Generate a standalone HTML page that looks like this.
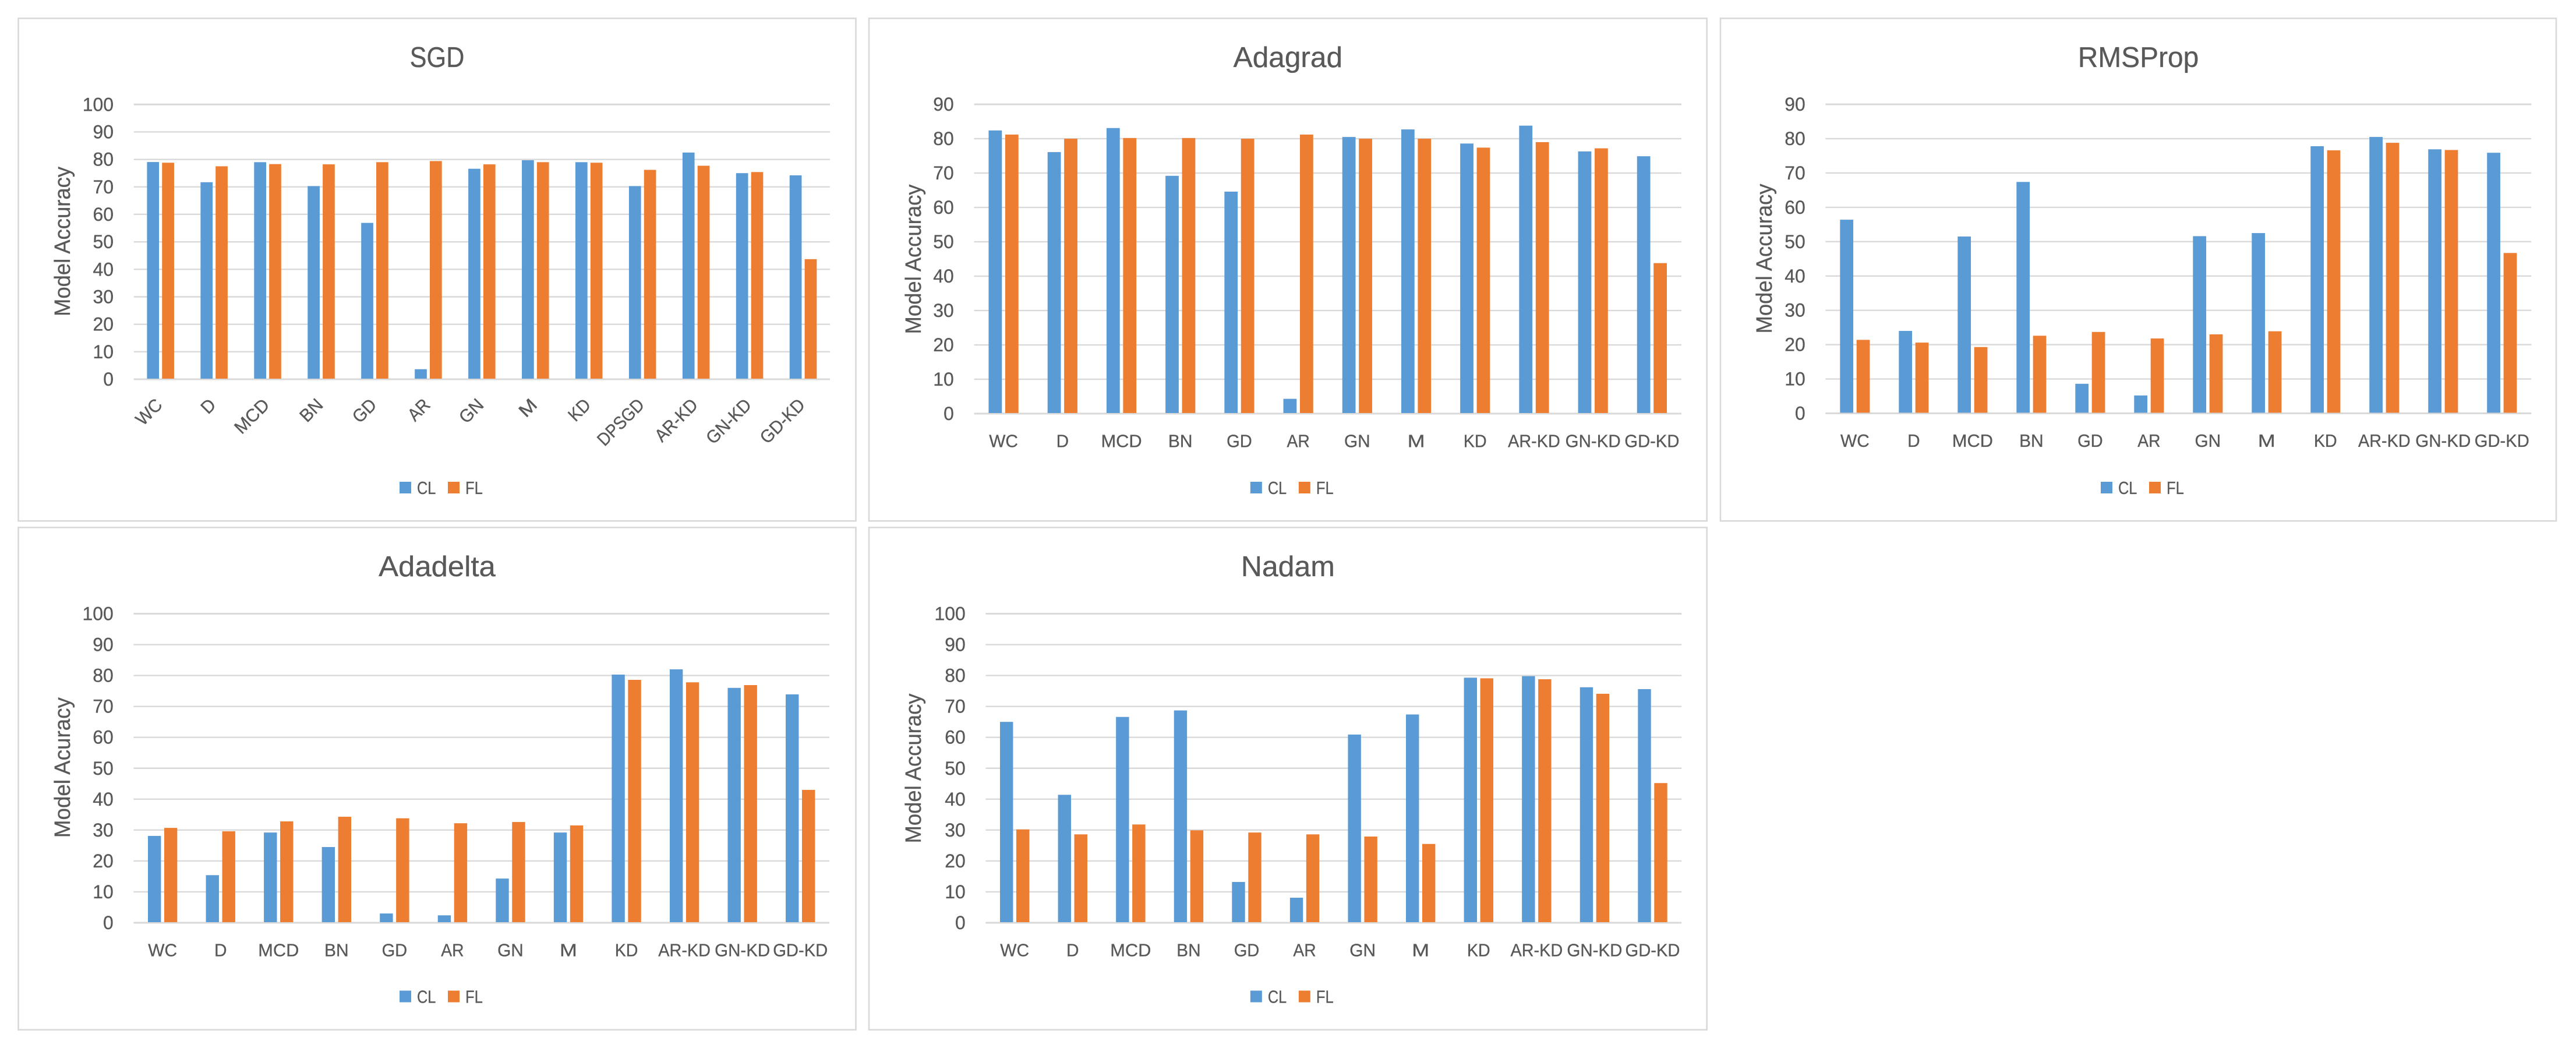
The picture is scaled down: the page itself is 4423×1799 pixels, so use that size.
<!DOCTYPE html>
<html lang="en">
<head>
<meta charset="utf-8">
<title>Model accuracy by optimizer</title>
<style>
html,body{margin:0;padding:0;background:#fff;}
svg{display:block;}
text{font-family:"Liberation Sans",Arial,sans-serif;fill:#595959;stroke:#595959;stroke-width:.35;}
</style>
</head>
<body>
<svg id="figure" xmlns="http://www.w3.org/2000/svg" width="4423" height="1799" viewBox="0 0 4423 1799"></svg>
<script>
/* ---------- data ---------- */
const categories13 = ['WC','D','MCD','BN','GD','AR','GN','M','KD','DPSGD','AR-KD','GN-KD','GD-KD'];
const categories12 = ['WC','D','MCD','BN','GD','AR','GN','M','KD','AR-KD','GN-KD','GD-KD'];
const ticks100 = [0,10,20,30,40,50,60,70,80,90,100];
const ticks90 = [0,10,20,30,40,50,60,70,80,90];
const seriesNames = ['CL','FL'];

const sgdCL = [79.05,71.7,79.0,70.3,56.9,3.65,76.6,79.7,79.0,70.3,82.5,75.0,74.2];
const sgdFL = [78.8,77.5,78.3,78.2,79.0,79.4,78.2,79.0,78.8,76.2,77.7,75.4,43.7];

const adagradCL = [82.4,76.1,83.1,69.2,64.6,4.3,80.5,82.7,78.6,83.8,76.3,74.9];
const adagradFL = [81.2,80.0,80.2,80.2,80.0,81.2,80.0,80.0,77.4,79.0,77.2,43.8];

const rmspropCL = [56.4,24.0,51.5,67.4,8.6,5.2,51.6,52.5,77.8,80.5,76.9,75.9];
const rmspropFL = [21.4,20.6,19.3,22.6,23.7,21.8,23.0,23.9,76.6,78.8,76.7,46.7];

const adadeltaCL = [28.1,15.4,29.2,24.5,3.0,2.4,14.3,29.2,80.3,82.0,76.0,73.9];
const adadeltaFL = [30.7,29.6,32.8,34.3,33.8,32.2,32.6,31.5,78.6,77.8,76.9,43.0];

const nadamCL = [65.0,41.4,66.6,68.7,13.2,8.1,60.9,67.4,79.3,79.8,76.2,75.6];
const nadamFL = [30.2,28.6,31.8,29.9,29.2,28.6,27.9,25.5,79.1,78.8,74.1,45.2];

/* ---------- helpers ---------- */
const NS = 'http://www.w3.org/2000/svg';
const COLORS = {CL:'#5B9BD5', FL:'#ED7D31', grid:'#D9D9D9'};
const figure = document.getElementById('figure');
/* advance widths used to fit each label to its reference width */
const advance = {A:.579,B:.544,C:.533,D:.615,F:.459,G:.631,K:.52,L:.42,M:.855,N:.646,P:.517,R:.543,S:.459,W:.89,
  a:.479,d:.525,e:.498,g:.471,l:.229,m:.799,o:.527,p:.525,r:.349,t:.335,'-':.306};
function fitWidth(str, size){
  let w = 0;
  for (const ch of str) w += advance[ch] || .507;
  return w * size;
}
function makeEl(tag, parent, attrs){
  const el = document.createElementNS(NS, tag);
  for (const k in attrs) el.setAttribute(k, attrs[k]);
  parent.appendChild(el);
  return el;
}
function makeText(parent, str, x, y, size, anchor, width, rotate){
  const el = makeEl('text', parent, {x:x, y:y, 'font-size':size, 'text-anchor':anchor});
  if (width) {
    el.setAttribute('textLength', width.toFixed(1));
    el.setAttribute('lengthAdjust', 'spacingAndGlyphs');
  }
  if (rotate) el.setAttribute('transform', 'rotate(' + rotate + ' ' + x + ' ' + y + ')');
  el.textContent = str;
  return el;
}

function drawChart(o){
  const key = o.title.toLowerCase();
  const g = makeEl('g', figure, {});
  
  

  const frame = makeEl('rect', g, {x:o.left, y:o.top, width:o.right-o.left, height:o.bottom-o.top, fill:'#fff', stroke:COLORS.grid, 'stroke-width':2.6});
  
  

  const midX = (o.left + o.right) / 2;
  const title = makeText(g, o.title, midX, o.top + 83.5, 49, 'middle', fitWidth(o.title, 55));
  
  

  const maxTick = o.ticks[o.ticks.length - 1];
  const yScale = v => o.y0 - (v / maxTick) * (o.y0 - o.yMax);
  const bandW = (o.plotRight - o.plotLeft) / o.categories.length;
  const xCenter = i => o.plotLeft + bandW * (i + 0.5);
  const barW = bandW * 0.225;
  const barGap = bandW * 0.056;

  o.ticks.forEach(function(t){
    const line = makeEl('line', g, {x1:o.plotLeft, x2:o.plotRight, y1:yScale(t), y2:yScale(t), stroke:COLORS.grid, 'stroke-width':t === 0 || t === maxTick ? 3 : 2.4});
    
    
    const label = makeText(g, String(t), o.plotLeft - 34.7, yScale(t) + 11, 32, 'end', fitWidth(String(t), 35));
    
    
  });

  o.categories.forEach(function(cat, i){
    const cx = xCenter(i);
    const clTop = yScale(o.cl[i]);
    const flTop = yScale(o.fl[i]);
    const clBar = makeEl('rect', g, {x:cx - barGap/2 - barW, y:clTop, width:barW, height:o.y0 - clTop - 1, fill:COLORS.CL});
    
    
    const flBar = makeEl('rect', g, {x:cx + barGap/2, y:flTop, width:barW, height:o.y0 - flTop - 1, fill:COLORS.FL});
    
    
    const lbl = o.rotated
      ? makeText(g, cat, cx + 5, o.y0 + 46, 31, 'end', fitWidth(cat, 35), -45)
      : makeText(g, cat, cx, o.y0 + 57.5, 31, 'middle', fitWidth(cat, 35));
    
    
  });

  const yTitle = makeText(g, o.yLabel, o.yTitleX, o.yTitleMid, 38, 'middle', null, -90);
  yTitle.setAttribute('textLength', o.yTitleLen);
  yTitle.setAttribute('lengthAdjust', 'spacingAndGlyphs');
  
  

  const legX = midX - 64.5;
  const legend = makeEl('g', g, {});
  
  
  seriesNames.forEach(function(name, i){
    const sx = legX + i * 83;
    const swatch = makeEl('rect', legend, {x:sx, y:o.legendY - 10, width:20, height:20, fill:COLORS[name]});
    
    
    const txt = makeText(legend, name, sx + 30, o.legendY + 11, 31, 'start', fitWidth(name, 34));
    
    
  });
}

/* ---------- charts ---------- */
drawChart({title:'SGD', categories:categories13, cl:sgdCL, fl:sgdFL, ticks:ticks100, rotated:true, yLabel:'Model Accuracy',
  left:31.5, right:1469.5, top:31.5, bottom:894.3, plotLeft:229.7, plotRight:1425, yMax:179.3, y0:651,
  yTitleX:120, yTitleMid:414.5, yTitleLen:257, legendY:837});
drawChart({title:'Adagrad', categories:categories12, cl:adagradCL, fl:adagradFL, ticks:ticks90, rotated:false, yLabel:'Model Accuracy',
  left:1492, right:2930.7, top:31.5, bottom:894.3, plotLeft:1672.5, plotRight:2887, yMax:179.1, y0:710,
  yTitleX:1581, yTitleMid:445, yTitleLen:257, legendY:837});
drawChart({title:'RMSProp', categories:categories12, cl:rmspropCL, fl:rmspropFL, ticks:ticks90, rotated:false, yLabel:'Model Accuracy',
  left:2954, right:4389, top:31.5, bottom:894.3, plotLeft:3134.4, plotRight:4346.3, yMax:179.1, y0:709.5,
  yTitleX:3042, yTitleMid:444, yTitleLen:257, legendY:837});
drawChart({title:'Adadelta', categories:categories12, cl:adadeltaCL, fl:adadeltaFL, ticks:ticks100, rotated:false, yLabel:'Model Acuracy',
  left:31.5, right:1469.5, top:905.5, bottom:1767.7, plotLeft:229.4, plotRight:1424, yMax:1053.5, y0:1584,
  yTitleX:120, yTitleMid:1317.6, yTitleLen:241, legendY:1710.5});
drawChart({title:'Nadam', categories:categories12, cl:nadamCL, fl:nadamFL, ticks:ticks100, rotated:false, yLabel:'Model Accuracy',
  left:1492, right:2930.7, top:905.5, bottom:1767.7, plotLeft:1692.4, plotRight:2887.3, yMax:1053.5, y0:1584,
  yTitleX:1581, yTitleMid:1319, yTitleLen:257, legendY:1710.5});
</script>
</body>
</html>
